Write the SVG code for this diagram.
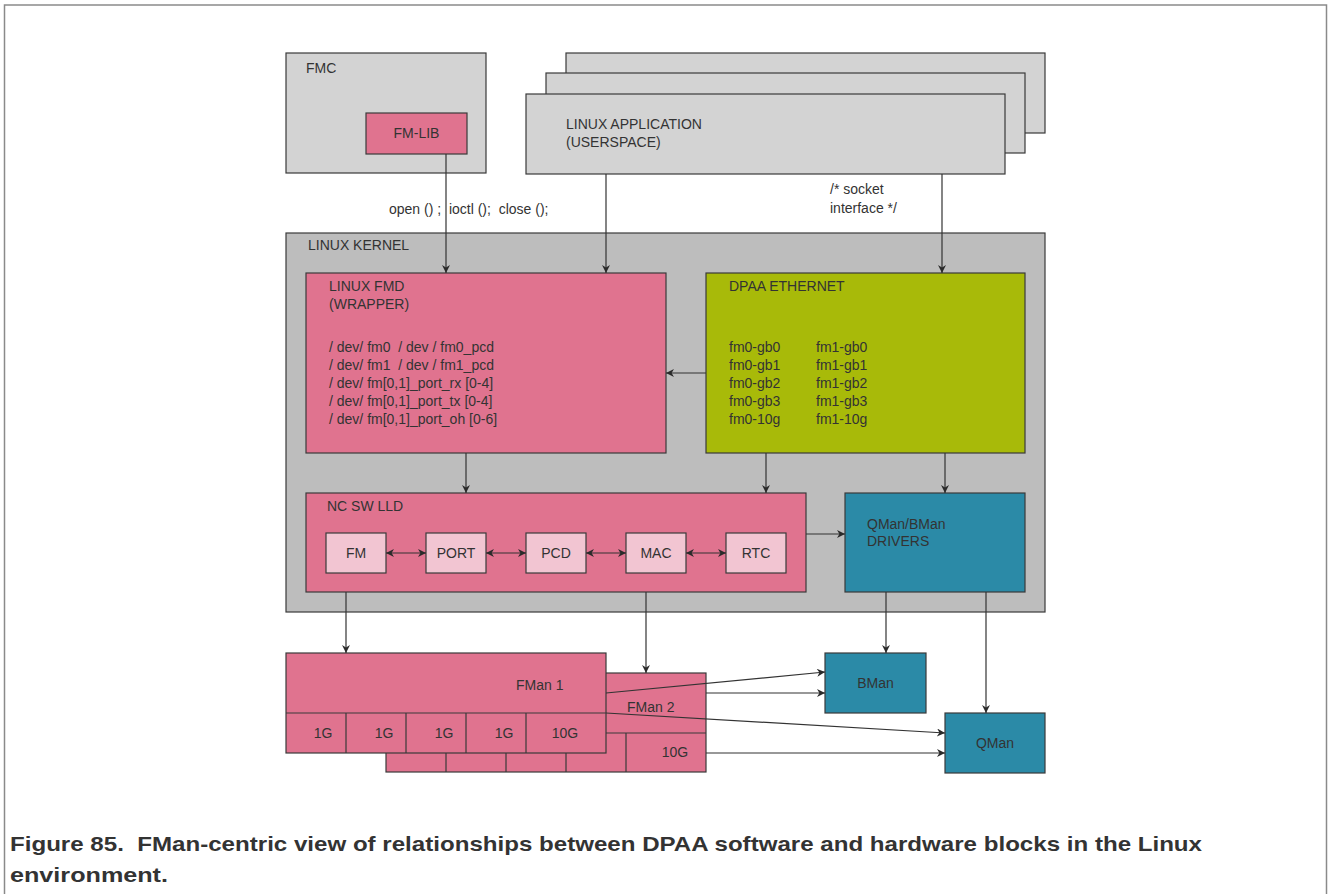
<svg xmlns="http://www.w3.org/2000/svg" width="1328" height="894" viewBox="0 0 1328 894" xml:space="preserve">
<style>
text{font-family:"Liberation Sans",Arial,sans-serif;font-size:14px;fill:#333;white-space:pre}
.b{stroke:#3a3a3a;stroke-width:1.2}
.gray{fill:#d3d3d3}
.kern{fill:#bdbdbd}
.pink{fill:#e0738f}
.lpink{fill:#f2c5d2}
.green{fill:#a8ba09}
.teal{fill:#2b8aa7}
.c{stroke:#333;stroke-width:1.2;fill:none}
.cap{font-size:21px;font-weight:bold;fill:#333}
.m{text-anchor:middle}
</style>
<defs>
<marker id="ah" viewBox="0 0 10 10" refX="10" refY="5" markerWidth="10" markerHeight="8" markerUnits="userSpaceOnUse" orient="auto-start-reverse">
<path d="M0,0 L10,5 L0,10 L3,5 z" fill="#2a2a2a"/>
</marker>
</defs>
<path d="M4.5,894 V5 H1326.5 V894" fill="none" stroke="#8a8a8a" stroke-width="1.5"/>

<g id="fmc">
<rect class="gray b" x="286" y="53" width="200" height="120"/>
<text x="306" y="73">FMC</text>
</g>
<g id="fmlib">
<rect class="pink b" x="366" y="113" width="101" height="41"/>
<text class="m" x="416.5" y="138">FM-LIB</text>
</g>
<g id="linuxapp">
<rect class="gray b" x="566" y="53" width="479" height="80"/>
<rect class="gray b" x="546" y="73" width="479" height="80"/>
<rect class="gray b" x="526" y="94" width="479" height="80"/>
<text x="566" y="129">LINUX APPLICATION</text>
<text x="566" y="147">(USERSPACE)</text>
</g>
<g id="kernel">
<rect class="kern b" x="286" y="233" width="759" height="379"/>
<text x="308" y="250">LINUX KERNEL</text>
</g>
<g id="fmd">
<rect class="pink b" x="306" y="273" width="360" height="180"/>
<text x="329" y="291">LINUX FMD</text>
<text x="329" y="309">(WRAPPER)</text>
<text x="329" y="352">/ dev/ fm0  / dev / fm0_pcd</text>
<text x="329" y="370">/ dev/ fm1  / dev / fm1_pcd</text>
<text x="329" y="388">/ dev/ fm[0,1]_port_rx [0-4]</text>
<text x="329" y="406">/ dev/ fm[0,1]_port_tx [0-4]</text>
<text x="329" y="424">/ dev/ fm[0,1]_port_oh [0-6]</text>
</g>
<g id="dpaa">
<rect class="green b" x="706" y="273" width="319" height="180"/>
<text x="729" y="291">DPAA ETHERNET</text>
<text x="729" y="352">fm0-gb0</text>
<text x="729" y="370">fm0-gb1</text>
<text x="729" y="388">fm0-gb2</text>
<text x="729" y="406">fm0-gb3</text>
<text x="729" y="424">fm0-10g</text>
<text x="816" y="352">fm1-gb0</text>
<text x="816" y="370">fm1-gb1</text>
<text x="816" y="388">fm1-gb2</text>
<text x="816" y="406">fm1-gb3</text>
<text x="816" y="424">fm1-10g</text>
</g>
<g id="ncsw">
<rect class="pink b" x="306" y="493" width="500" height="99"/>
<text x="327" y="511">NC SW LLD</text>
</g>
<g id="fm"><rect class="lpink b" x="326" y="533" width="60" height="40"/><text class="m" x="356" y="558">FM</text></g>
<g id="port"><rect class="lpink b" x="426" y="533" width="60" height="40"/><text class="m" x="456" y="558">PORT</text></g>
<g id="pcd"><rect class="lpink b" x="526" y="533" width="60" height="40"/><text class="m" x="556" y="558">PCD</text></g>
<g id="mac"><rect class="lpink b" x="626" y="533" width="60" height="40"/><text class="m" x="656" y="558">MAC</text></g>
<g id="rtc"><rect class="lpink b" x="726" y="533" width="60" height="40"/><text class="m" x="756" y="558">RTC</text></g>
<g id="qbdrivers">
<rect class="teal b" x="845" y="493" width="180" height="99"/>
<text x="867" y="529">QMan/BMan</text>
<text x="867" y="546">DRIVERS</text>
</g>
<g id="fman2">
<rect class="pink b" x="386" y="673" width="320" height="99"/>
<path class="b" fill="none" d="M386,733 H706 M446,733 V772 M506,733 V772 M566,733 V772 M626,733 V772"/>
<text x="627" y="712">FMan 2</text>
<text class="m" x="675" y="757">10G</text>
</g>
<g id="fman1">
<rect class="pink b" x="286" y="653" width="320" height="100"/>
<path class="b" fill="none" d="M286,713 H606 M346,713 V753 M406,713 V753 M466,713 V753 M526,713 V753"/>
<text x="516" y="690">FMan 1</text>
<text class="m" x="323" y="738">1G</text>
<text class="m" x="384" y="738">1G</text>
<text class="m" x="444" y="738">1G</text>
<text class="m" x="504" y="738">1G</text>
<text class="m" x="565" y="738">10G</text>
</g>
<g id="bman">
<rect class="teal b" x="825" y="653" width="101" height="60"/>
<text class="m" x="875.5" y="688">BMan</text>
</g>
<g id="qman">
<rect class="teal b" x="945" y="713" width="100" height="60"/>
<text class="m" x="995" y="748">QMan</text>
</g>
<g id="connectors">
<path class="c" d="M446,154 V273" marker-end="url(#ah)"/>
<path class="c" d="M606,174 V273" marker-end="url(#ah)"/>
<path class="c" d="M942,174 V273" marker-end="url(#ah)"/>
<path class="c" d="M706,373 H666" marker-end="url(#ah)"/>
<path class="c" d="M466,453 V493" marker-end="url(#ah)"/>
<path class="c" d="M766,453 V493" marker-end="url(#ah)"/>
<path class="c" d="M945,453 V493" marker-end="url(#ah)"/>
<path class="c" d="M806,534 H845" marker-end="url(#ah)"/>
<path class="c" d="M386,553 H426" marker-start="url(#ah)" marker-end="url(#ah)"/>
<path class="c" d="M486,553 H526" marker-start="url(#ah)" marker-end="url(#ah)"/>
<path class="c" d="M586,553 H626" marker-start="url(#ah)" marker-end="url(#ah)"/>
<path class="c" d="M686,553 H726" marker-start="url(#ah)" marker-end="url(#ah)"/>
<path class="c" d="M346,592 V653" marker-end="url(#ah)"/>
<path class="c" d="M646,592 V673" marker-end="url(#ah)"/>
<path class="c" d="M886,592 V653" marker-end="url(#ah)"/>
<path class="c" d="M986,592 V713" marker-end="url(#ah)"/>
<path class="c" d="M606,693 L825,672" marker-end="url(#ah)"/>
<path class="c" d="M706,693 H825" marker-end="url(#ah)"/>
<path class="c" d="M606,713 L945,733" marker-end="url(#ah)"/>
<path class="c" d="M706,753 H945" marker-end="url(#ah)"/>
<text x="389" y="214">open () ;  ioctl ();  close ();</text>
<text x="830" y="194">/* socket</text>
<text x="830" y="213">interface */</text>
</g>
<text class="cap" x="10" y="851" textLength="1192" lengthAdjust="spacingAndGlyphs">Figure 85.  FMan-centric view of relationships between DPAA software and hardware blocks in the Linux</text>
<text class="cap" x="10" y="882" textLength="158" lengthAdjust="spacingAndGlyphs">environment.</text>
</svg>
